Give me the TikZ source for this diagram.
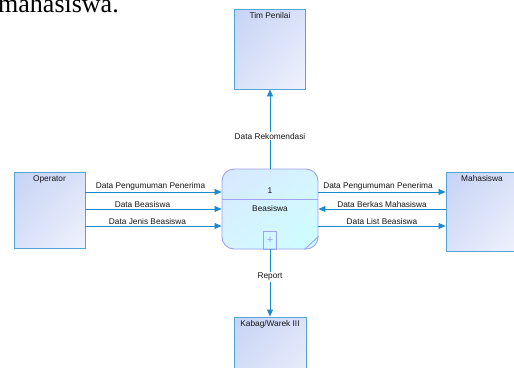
\documentclass[tikz,border=0pt]{standalone}
\usepackage{fontspec}
\setmainfont{Liberation Sans}
\newfontfamily\serifbody{Liberation Serif}
\usepackage{xcolor}
\definecolor{textcolor}{RGB}{20,20,20}
\definecolor{flowcolor}{RGB}{28,138,204}
\definecolor{entitycolor}{RGB}{84,164,214}
\definecolor{entdark}{RGB}{198,211,245}
\definecolor{entmid}{RGB}{218,226,249}
\definecolor{entlight}{RGB}{240,242,253}
\definecolor{proccolor}{RGB}{160,162,238}
\definecolor{procdark}{RGB}{214,232,255}
\definecolor{procmid}{RGB}{214,244,255}
\definecolor{proclight}{RGB}{204,255,255}
\usepackage{tikz}
\usetikzlibrary{arrows.meta,shadings}

\begin{document}
\begin{tikzpicture}[x=1pt, y=-1pt, every node/.style={color=textcolor, font=\fontsize{8.3}{10}\selectfont},
  entity/.style={draw=entitycolor, line width=0.9pt, inner sep=0pt, minimum width=71pt,
    shade, upper left=entdark, upper right=entmid, lower left=entmid, lower right=entlight},
  flow/.style={draw=flowcolor, line width=0.8pt, -{Triangle[length=7pt, width=6pt]}},
  flowtext/.style={above=0.5pt, inner sep=1pt}]
  \useasboundingbox (0,0) rectangle (514,367);

  \node[anchor=base west, inner sep=0pt, font=\serifbody\fontsize{26}{28}\selectfont, color=black] (head) at (-2,12) {mahasiswa.};

  % external entities
  \node[entity, minimum height=80pt, label={[anchor=north, inner sep=4pt]north:Tim Penilai}] (timpenilai) at (270,49) {};
  \node[entity, minimum height=76pt, label={[anchor=north, inner sep=4pt]north:Operator}] (operator) at (49.5,210) {};
  \node[entity, minimum width=72pt, minimum height=79pt, label={[anchor=north, inner sep=4pt]north:Mahasiswa}] (mahasiswa) at (482,211.5) {};
  \node[entity, minimum width=72pt, minimum height=80pt, label={[anchor=north, inner sep=4pt]north:Kabag/Warek III}] (kabag) at (270,357) {};

  % process
  \node[draw=proccolor, line width=0.9pt, rounded corners=12pt, minimum width=96pt, minimum height=80pt,
    shade, upper left=procdark, upper right=procmid, lower left=procmid, lower right=proclight] (proc) at (270,209) {};
  \draw[proccolor, line width=0.9pt] (proc.west |- 0,199) -- (proc.east |- 0,199);
  \node (procnum) at (270,191) {1};
  \node (procname) at (270,209) {Beasiswa};
  \node[draw=proccolor, line width=0.9pt, inner sep=0pt, minimum width=13pt, minimum height=18pt, anchor=south] (plusbox) at (proc.south) {};
  \node[color=proccolor, font=\fontsize{11}{11}\selectfont, inner sep=0pt] (plus) at (plusbox.center) {+};
  \draw[proccolor, line width=0.9pt] ([xshift=-14pt]proc.south east) -- ([yshift=13pt]proc.south east);

  % flows left
  \draw[flow] ([yshift=18pt]operator.east) -- node[flowtext, xshift=-3pt] {Data Pengumuman Penerima} ([yshift=18pt]operator.east -| proc.west);
  \draw[flow] ([yshift=1pt]operator.east) -- node[flowtext, xshift=-11pt] {Data Beasiswa} ([yshift=1pt]operator.east -| proc.west);
  \draw[flow] ([yshift=-16pt]operator.east) -- node[flowtext, xshift=-6pt] {Data Jenis Beasiswa} ([yshift=-16pt]operator.east -| proc.west);

  % flows right
  \draw[flow] ([yshift=17pt]proc.east) -- node[flowtext, xshift=-4pt] {Data Pengumuman Penerima} ([yshift=17pt]proc.east -| mahasiswa.west);
  \draw[flow] ([yshift=0pt]proc.east -| mahasiswa.west) -- node[flowtext] {Data Berkas Mahasiswa} ([yshift=0pt]proc.east);
  \draw[flow] ([yshift=-17pt]proc.east) -- node[flowtext] {Data List Beasiswa} ([yshift=-17pt]proc.east -| mahasiswa.west);

  % flows up and down
  \draw[flow] (proc.north) -- node[fill=white, inner sep=1pt, pos=0.41] {Data Rekomendasi} (timpenilai.south);
  \draw[flow] (proc.south) -- node[fill=white, inner sep=1pt, pos=0.41] {Report} (kabag.north);
\end{tikzpicture}
\end{document}
